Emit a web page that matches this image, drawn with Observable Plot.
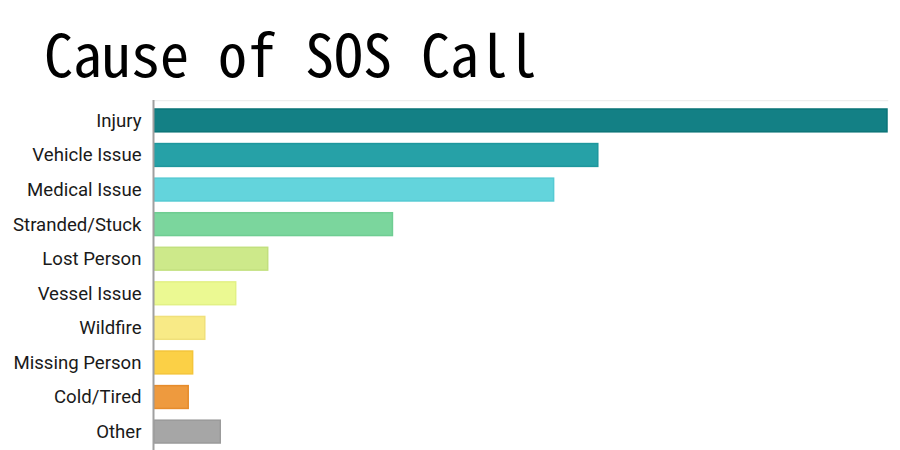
<!DOCTYPE html>
<html>
<head>
<meta charset="utf-8">
<script src="https://cdn.jsdelivr.net/npm/d3@7"></script>
<script src="https://cdn.jsdelivr.net/npm/@observablehq/plot@0.6"></script>
<style>
  html, body { margin: 0; padding: 0; background: #fff; width: 900px; height: 450px; overflow: hidden; }
  #title { position: absolute; left: 44px; top: 23px; margin: 0; font-family: "Noto Sans Mono CJK JP", "Noto Sans CJK JP", "DejaVu Sans Mono", monospace; font-weight: 400; font-size: 58px; line-height: 58px; color: #000; white-space: pre; }
  #chart { position: absolute; left: 0; top: 100px; }
</style>
</head>
<body>
<div id="title">Cause of SOS Call</div>
<div id="chart"></div>
<script>
const categories = ["Injury", "Vehicle Issue", "Medical Issue", "Stranded/Stuck", "Lost Person", "Vessel Issue", "Wildfire", "Missing Person", "Cold/Tired", "Other"];
const values = [33.2, 20.1, 18.1, 10.8, 5.15, 3.7, 2.3, 1.75, 1.55, 3.0];
const fills = ["#138085", "#26a1a7", "#63d4dc", "#7bd69d", "#cde98a", "#ebf992", "#f8ea86", "#fbd046", "#ee9a3e", "#a6a6a6"];
const strokes = ["#0b7478", "#1e979d", "#55cad3", "#6fcd92", "#c2e07e", "#e2f185", "#f0e07a", "#f4c53a", "#e68c2c", "#9a9a9a"];

const data = categories.map((c, i) => ({category: c, value: values[i], fill: fills[i], stroke: strokes[i]}));

const chart = Plot.plot({
  width: 900,
  height: 352,
  marginTop: 0,
  marginBottom: 0,
  marginLeft: 154,
  marginRight: 13,
  style: {fontFamily: "Roboto, sans-serif", background: "#fff"},
  x: {domain: [0, d3.max(values)], axis: null},
  y: {domain: categories, paddingInner: 0.34, paddingOuter: 0.26, round: false, label: null},
  marks: [
    Plot.frame({anchor: "top", stroke: "#eeeeee", strokeWidth: 1.5}),
    Plot.barX(data, {y: "category", x: "value", fill: "fill", stroke: "stroke", strokeWidth: 1.5}),
    Plot.ruleX([0], {stroke: "#a0a0a0", strokeWidth: 2, dx: -1}),
    Plot.axisY({tickSize: 0, tickPadding: 13, fontSize: 18.6, fill: "#1a1a1a", label: null})
  ]
});
document.getElementById("chart").appendChild(chart);
</script>
</body>
</html>
